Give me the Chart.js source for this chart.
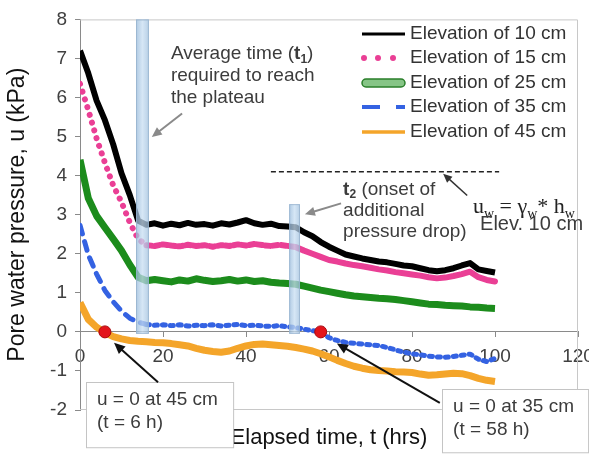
<!DOCTYPE html>
<html>
<head>
<meta charset="utf-8">
<script src="https://cdn.jsdelivr.net/npm/chart.js@4.4.0/dist/chart.umd.min.js"></script>
<style>
  html, body { margin: 0; padding: 0; background: #fff; }
</style>
</head>
<body>
<canvas id="c" width="589" height="461"></canvas>
<script>
// elapsed time (hrs)
const hours = [0, 2, 4, 6, 8, 10, 12, 14, 16, 18, 20, 22, 24, 26, 28, 30, 32, 34, 36, 38, 40, 42, 44, 46, 48, 50,
  52, 54, 56, 58, 60, 62, 64, 66, 68, 70, 72, 74, 76, 78, 80, 82, 84, 86, 88, 90, 92, 94, 96, 98, 100];

// pore water pressure (kPa) per elevation
const elev10 = [7.20, 6.62, 5.92, 5.42, 4.80, 4.06, 3.50, 2.85, 2.74, 2.78, 2.72, 2.77, 2.73, 2.79, 2.74, 2.76,
  2.72, 2.78, 2.75, 2.80, 2.86, 2.78, 2.74, 2.77, 2.71, 2.70, 2.68, 2.55, 2.45, 2.30, 2.18, 2.08, 1.98, 1.93,
  1.88, 1.84, 1.80, 1.78, 1.74, 1.70, 1.68, 1.63, 1.58, 1.55, 1.58, 1.63, 1.70, 1.76, 1.60, 1.56, 1.52];
const elev15 = [6.35, 5.68, 4.95, 4.33, 3.75, 3.32, 2.80, 2.38, 2.22, 2.20, 2.24, 2.21, 2.19, 2.23, 2.20, 2.22,
  2.18, 2.22, 2.20, 2.24, 2.21, 2.25, 2.22, 2.20, 2.23, 2.20, 2.17, 2.08, 2.00, 1.92, 1.84, 1.80, 1.75, 1.71,
  1.68, 1.64, 1.60, 1.57, 1.53, 1.50, 1.47, 1.44, 1.40, 1.37, 1.39, 1.43, 1.48, 1.54, 1.40, 1.33, 1.29];
const elev25 = [4.41, 3.42, 2.97, 2.67, 2.38, 2.08, 1.72, 1.40, 1.31, 1.34, 1.31, 1.28, 1.33, 1.30, 1.36, 1.32,
  1.29, 1.31, 1.34, 1.30, 1.33, 1.29, 1.31, 1.27, 1.25, 1.24, 1.22, 1.17, 1.12, 1.07, 1.03, 0.99, 0.95, 0.92,
  0.90, 0.88, 0.86, 0.85, 0.83, 0.80, 0.77, 0.74, 0.71, 0.70, 0.68, 0.67, 0.66, 0.64, 0.63, 0.61, 0.60];
const elev35 = [2.73, 1.97, 1.48, 1.06, 0.77, 0.53, 0.35, 0.25, 0.19, 0.17, 0.18, 0.16, 0.18, 0.15, 0.17, 0.16,
  0.18, 0.15, 0.17, 0.19, 0.16, 0.17, 0.15, 0.14, 0.16, 0.13, 0.11, 0.07, 0.03, 0.00, -0.15, -0.22, -0.27, -0.29,
  -0.31, -0.33, -0.35, -0.40, -0.46, -0.52, -0.56, -0.59, -0.62, -0.64, -0.65, -0.63, -0.60, -0.57, -0.70, -0.76, -0.68];
const elev45 = [0.75, 0.32, 0.12, -0.02, -0.12, -0.18, -0.22, -0.24, -0.25, -0.27, -0.28, -0.30, -0.33, -0.36,
  -0.42, -0.47, -0.50, -0.52, -0.49, -0.42, -0.36, -0.32, -0.31, -0.33, -0.35, -0.37, -0.40, -0.44, -0.49, -0.56,
  -0.64, -0.73, -0.81, -0.88, -0.93, -0.97, -0.99, -1.00, -1.02, -1.03, -1.04, -1.08, -1.11, -1.10, -1.08, -1.06,
  -1.07, -1.12, -1.19, -1.24, -1.27];

const seriesLabels = ['Elevation of 10 cm', 'Elevation of 15 cm', 'Elevation of 25 cm', 'Elevation of 35 cm', 'Elevation of 45 cm'];

// u = 0 crossings (red dots)
const zeroT = [6, 58];
const zeroU = [0, 0];

// hydrostatic line u_w = gamma_w * h_w at 10 cm
const hydroT = [46, 101];
const hydroU = [4.1, 4.1];

// shaded bands t1 and t2
const bandFrom = [13.5, 50.4];
const bandTo = [16.6, 53.0];
const bandTop = [8, 3.27];

const xTicks = [0, 20, 40, 60, 80, 100, 120];
const yTicks = [-2, -1, 0, 1, 2, 3, 4, 5, 6, 7, 8];

const SANS = '"Liberation Sans", Arial, sans-serif';
const SERIF = '"Liberation Serif", "Times New Roman", serif';

const pts = (xs, ys) => xs.map((x, i) => ({x: x, y: ys[i]}));

// draw text made of parts (bold / subscript)
function richText(ctx, parts, x, y, size, color, family) {
    let cx = x;
    ctx.fillStyle = color;
    ctx.textBaseline = 'middle';
    ctx.textAlign = 'left';
    parts.forEach(p => {
        const s = p.sub ? Math.round(size * 0.62) : size;
        ctx.font = (p.bold ? 'bold ' : '') + s + 'px ' + (family || SANS);
        ctx.fillText(p.t, cx, p.sub ? y + size * 0.3 : y);
        cx += ctx.measureText(p.t).width;
    });
}

function arrow(ctx, x1, y1, x2, y2, color, w, hl, hw) {
    const a = Math.atan2(y2 - y1, x2 - x1);
    ctx.strokeStyle = color;
    ctx.fillStyle = color;
    ctx.lineWidth = w;
    ctx.beginPath();
    ctx.moveTo(x1, y1);
    ctx.lineTo(x2 - Math.cos(a) * hl * 0.7, y2 - Math.sin(a) * hl * 0.7);
    ctx.stroke();
    ctx.beginPath();
    ctx.moveTo(x2, y2);
    ctx.lineTo(x2 - hl * Math.cos(a) + hw * Math.sin(a), y2 - hl * Math.sin(a) - hw * Math.cos(a));
    ctx.lineTo(x2 - hl * Math.cos(a) - hw * Math.sin(a), y2 - hl * Math.sin(a) + hw * Math.cos(a));
    ctx.closePath();
    ctx.fill();
}

const overlay = {
    id: 'overlay',
    beforeDatasetsDraw(chart) {
        const {ctx, chartArea: a} = chart;
        ctx.save();
        ctx.strokeStyle = '#c8c8c8';
        ctx.lineWidth = 1;
        ctx.beginPath();
        ctx.moveTo(a.left, a.top + 0.5);
        ctx.lineTo(a.right - 0.5, a.top + 0.5);
        ctx.lineTo(a.right - 0.5, a.bottom - 0.5);
        ctx.lineTo(a.left, a.bottom - 0.5);
        ctx.stroke();
        ctx.restore();
    },
    afterDatasetsDraw(chart) {
        const {ctx} = chart;
        const X = v => chart.scales.x.getPixelForValue(v);
        const Y = v => chart.scales.y.getPixelForValue(v);
        ctx.save();
        bandFrom.forEach((b, i) => {
            const x0 = X(b), x1 = X(bandTo[i]), y0 = Y(bandTop[i]), y1 = Y(-0.05);
            const g = ctx.createLinearGradient(x0, 0, x1, 0);
            g.addColorStop(0, 'rgba(150,185,218,0.75)');
            g.addColorStop(0.5, 'rgba(200,222,242,0.75)');
            g.addColorStop(1, 'rgba(160,192,222,0.75)');
            ctx.fillStyle = g;
            ctx.fillRect(x0, y0, x1 - x0, y1 - y0);
            ctx.strokeStyle = 'rgba(150,178,205,0.8)';
            ctx.lineWidth = 1;
            ctx.strokeRect(x0 + 0.5, y0 + 0.5, x1 - x0 - 1, y1 - y0 - 1);
        });
        ctx.restore();
    },
    afterDraw(chart) {
        const {ctx} = chart;
        const X = v => chart.scales.x.getPixelForValue(v);
        const Y = v => chart.scales.y.getPixelForValue(v);
        ctx.save();

        // legend
        const lx0 = 362, lx1 = 405, ltx = 410;
        const rows = [34, 58, 83, 107, 132];
        ctx.lineCap = 'butt';
        rows.forEach((ry, i) => {
            if (i === 0) {
                ctx.strokeStyle = '#000'; ctx.lineWidth = 3;
                ctx.beginPath(); ctx.moveTo(lx0, ry); ctx.lineTo(lx1, ry); ctx.stroke();
            } else if (i === 1) {
                ctx.fillStyle = '#ea3f95';
                [364, 378, 393].forEach(dx => { ctx.beginPath(); ctx.arc(dx, ry, 3, 0, Math.PI * 2); ctx.fill(); });
            } else if (i === 2) {
                ctx.fillStyle = '#86c586'; ctx.strokeStyle = '#2a7f2a'; ctx.lineWidth = 1.5;
                ctx.beginPath();
                ctx.moveTo(lx0 + 4, ry - 4); ctx.lineTo(lx1 - 4, ry - 4);
                ctx.arc(lx1 - 4, ry, 4, -Math.PI / 2, Math.PI / 2);
                ctx.lineTo(lx0 + 4, ry + 4);
                ctx.arc(lx0 + 4, ry, 4, Math.PI / 2, Math.PI * 1.5);
                ctx.closePath(); ctx.fill(); ctx.stroke();
            } else if (i === 3) {
                ctx.strokeStyle = '#3462e2'; ctx.lineWidth = 4;
                ctx.beginPath(); ctx.moveTo(lx0, ry); ctx.lineTo(380, ry); ctx.moveTo(396, ry); ctx.lineTo(lx1, ry); ctx.stroke();
            } else {
                ctx.strokeStyle = '#f4a52a'; ctx.lineWidth = 3.5;
                ctx.beginPath(); ctx.moveTo(lx0, ry); ctx.lineTo(lx1, ry); ctx.stroke();
            }
            richText(ctx, [{t: seriesLabels[i]}], ltx, ry, 19, '#333');
        });

        // text notes
        const grey = '#3c3c3c';
        richText(ctx, [{t: 'Average time ('}, {t: 't', bold: 1}, {t: '1', bold: 1, sub: 1}, {t: ')'}], X(21.9), Y(7.11), 19, grey);
        richText(ctx, [{t: 'required to reach'}], X(21.9), Y(6.56), 19, grey);
        richText(ctx, [{t: 'the plateau'}], X(21.9), Y(6.0), 19, grey);
        richText(ctx, [{t: 't', bold: 1}, {t: '2', bold: 1, sub: 1}, {t: ' (onset of'}], X(63.4), Y(3.65), 19, grey);
        richText(ctx, [{t: 'additional'}], X(63.4), Y(3.11), 19, grey);
        richText(ctx, [{t: 'pressure drop)'}], X(63.4), Y(2.56), 19, grey);
        richText(ctx, [{t: 'u'}, {t: 'w', sub: 1}, {t: ' = \u03b3'}, {t: 'w', sub: 1}, {t: '* h'}, {t: 'w', sub: 1}],
            X(94.7), Y(3.19), 22, '#222', SERIF);
        richText(ctx, [{t: 'Elev. 10 cm'}], X(96.4), Y(2.76), 20, grey);

        // arrows
        arrow(ctx, X(24.6), Y(5.59), X(17.3), Y(4.99), '#8a8a8a', 2, 10, 4.5);
        arrow(ctx, X(62.9), Y(3.29), X(54.2), Y(3.01), '#8a8a8a', 2, 10, 4.5);
        arrow(ctx, X(93.3), Y(3.49), X(87.5), Y(4.05), '#333', 1.5, 9, 4);

        // callout boxes
        const boxes = [
            {t0: 1.45, t1: 36.9, u0: -1.29, u1: -2.96, tx: 4.1, lines: ['u = 0 at 45 cm', '(t = 6 h)'], lu: [-1.75, -2.33]},
            {t0: 87.2, t1: 122.4, u0: -1.47, u1: -3.09, tx: 89.9, lines: ['u = 0 at 35 cm', '(t = 58 h)'], lu: [-1.92, -2.51]}
        ];
        boxes.forEach(b => {
            const x0 = X(b.t0), x1 = X(b.t1), y0 = Y(b.u0), y1 = Y(b.u1);
            ctx.fillStyle = '#fff';
            ctx.fillRect(x0, y0, x1 - x0, y1 - y0);
            ctx.strokeStyle = '#c4c4c4'; ctx.lineWidth = 1;
            ctx.strokeRect(Math.round(x0) + 0.5, Math.round(y0) + 0.5, x1 - x0, y1 - y0);
            b.lines.forEach((s, k) => richText(ctx, [{t: s}], X(b.tx), Y(b.lu[k]), 19, grey));
        });
        arrow(ctx, X(18.8), Y(-1.29), X(8.2), Y(-0.28), '#111', 2, 11, 5);
        arrow(ctx, X(86.7), Y(-1.82), X(61.9), Y(-0.30), '#111', 2, 11, 5);

        ctx.restore();
    }
};

new Chart(document.getElementById('c'), {
    type: 'line',
    data: {
        datasets: [
            {
                label: 'u = 0',
                data: pts(zeroT, zeroU),
                showLine: false,
                pointRadius: 6,
                pointBackgroundColor: '#e3141b',
                pointBorderColor: '#a8060c',
                pointBorderWidth: 1
            },
            {
                label: seriesLabels[0],
                data: pts(hours, elev10),
                borderColor: '#000',
                borderWidth: 6,
                pointRadius: 0,
                borderJoinStyle: 'round'
            },
            {
                label: seriesLabels[1],
                data: pts(hours, elev15),
                borderColor: '#ea3f95',
                borderWidth: 6,
                pointRadius: 0,
                borderCapStyle: 'round',
                borderJoinStyle: 'round',
                borderDash: [],
                segment: {
                    borderDash: c => c.p0.parsed.x < 16 ? [0.1, 8] : (c.p0.parsed.x < 52 ? [5, 3] : undefined)
                }
            },
            {
                label: seriesLabels[2],
                data: pts(hours, elev25),
                borderColor: '#1c8c1c',
                borderWidth: 7,
                pointRadius: 0,
                borderJoinStyle: 'round'
            },
            {
                label: seriesLabels[3],
                data: pts(hours, elev35),
                borderColor: '#3462e2',
                borderWidth: 5,
                pointRadius: 0,
                borderCapStyle: 'round',
                borderJoinStyle: 'round',
                borderDash: [3, 5],
                segment: {
                    borderDash: c => c.p0.parsed.x < 16 ? [9, 8] : undefined
                }
            },
            {
                label: seriesLabels[4],
                data: pts(hours, elev45),
                borderColor: '#f4a52a',
                borderWidth: 7,
                pointRadius: 0,
                borderJoinStyle: 'round'
            },
            {
                label: 'hydrostatic',
                data: pts(hydroT, hydroU),
                borderColor: '#222',
                borderWidth: 1.5,
                borderDash: [5, 3],
                pointRadius: 0
            }
        ]
    },
    options: {
        responsive: false,
        animation: false,
        devicePixelRatio: 1,
        layout: {padding: {left: 0, right: 11, top: 15, bottom: 0}},
        plugins: {legend: {display: false}, tooltip: {enabled: false}},
        scales: {
            x: {
                type: 'linear',
                position: {y: 0},
                min: 0,
                max: 120,
                afterBuildTicks: s => { s.ticks = xTicks.map(v => ({value: v})); },
                ticks: {color: '#404040', font: {family: SANS, size: 19}, padding: 8, maxRotation: 0, autoSkip: false},
                grid: {drawOnChartArea: false, tickLength: 5, color: '#8a8a8a'},
                border: {color: '#8a8a8a'},
                afterFit: s => { s.paddingLeft = 0; s.paddingRight = 0; }
            },
            x2: {
                type: 'linear',
                axis: 'x',
                position: 'bottom',
                min: 0,
                max: 120,
                ticks: {display: false},
                grid: {display: false},
                border: {display: false},
                title: {display: true, text: 'Elapsed time, t (hrs)', color: '#111', font: {family: SANS, size: 22}, padding: {top: 0, bottom: 10}},
                afterFit: s => { s.height = 51; }
            },
            y: {
                min: -2,
                max: 8,
                afterBuildTicks: s => { s.ticks = yTicks.map(v => ({value: v})); },
                ticks: {color: '#404040', font: {family: SANS, size: 19}, padding: 8},
                grid: {drawOnChartArea: false, tickLength: 5, color: '#8a8a8a'},
                border: {color: '#8a8a8a'},
                title: {display: true, text: 'Pore water pressure, u (kPa)', color: '#111', font: {family: SANS, size: 23}, padding: {top: 4, bottom: 0}},
                afterFit: s => { s.width = 80; }
            }
        }
    },
    plugins: [overlay]
});
</script>
</body>
</html>
